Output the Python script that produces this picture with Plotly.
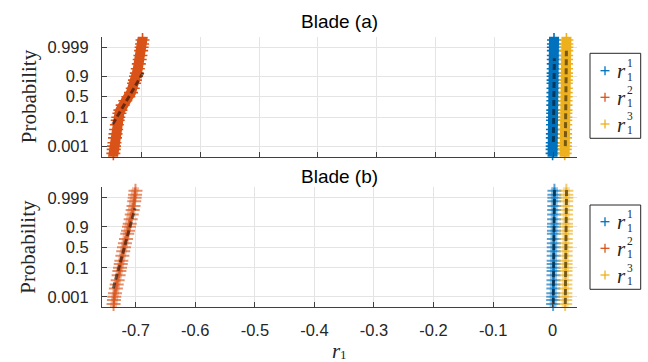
import plotly.graph_objects as go
from statistics import NormalDist

ND = NormalDist()
W, H = 648, 362

# ---------------- data ----------------
series_names = ["r1^1", "r1^2", "r1^3"]
colors = ["#0072BD", "#D95319", "#EDB120"]

# probability levels (plotting positions) at which the sorted samples were read
prob_levels = [0.00007, 0.0002, 0.0005, 0.001, 0.002, 0.005, 0.01, 0.02, 0.04, 0.07,
               0.1, 0.15, 0.2, 0.3, 0.4, 0.5, 0.6, 0.7, 0.8, 0.85,
               0.9, 0.93, 0.96, 0.98, 0.99, 0.995, 0.998, 0.999, 0.9995, 0.9998, 0.99993]

# Blade (a)
a_r1 = [-0.0013, -0.0012, -0.0011, -0.0010, -0.0009, -0.0008, -0.0007, -0.0006, -0.0005, -0.0004,
        -0.0003, -0.0002, -0.0001, 0.0000, 0.0001, 0.0002, 0.0003, 0.0004, 0.0004, 0.0005,
        0.0006, 0.0006, 0.0007, 0.0008, 0.0008, 0.0009, 0.0010, 0.0010, 0.0011, 0.0012, 0.0013]
a_r2 = [-0.7485, -0.7478, -0.7472, -0.7467, -0.7459, -0.7450, -0.7441, -0.7430, -0.7418, -0.7404,
        -0.7394, -0.7375, -0.7358, -0.7320, -0.7275, -0.7224, -0.7178, -0.7148, -0.7126, -0.7111,
        -0.7093, -0.7079, -0.7062, -0.7045, -0.7030, -0.7018, -0.7006, -0.6997, -0.6990, -0.6982, -0.6975]
a_r3 = [0.0192, 0.0194, 0.0196, 0.0197, 0.0199, 0.0200, 0.0201, 0.0202, 0.0203, 0.0204,
        0.0205, 0.0206, 0.0207, 0.0208, 0.0209, 0.0210, 0.0211, 0.0212, 0.0213, 0.0213,
        0.0214, 0.0215, 0.0216, 0.0217, 0.0218, 0.0219, 0.0220, 0.0221, 0.0222, 0.0223, 0.0224]

# Blade (b)
b_r1 = [0.0006, 0.0007, 0.0008, 0.0009, 0.0010, 0.0011, 0.0012, 0.0013, 0.0014, 0.0015,
        0.0015, 0.0016, 0.0016, 0.0017, 0.0017, 0.0018, 0.0019, 0.0019, 0.0020, 0.0021,
        0.0021, 0.0022, 0.0023, 0.0024, 0.0025, 0.0026, 0.0027, 0.0028, 0.0028, 0.0029, 0.0030]
b_r2 = [-0.7378, -0.7372, -0.7366, -0.7360, -0.7349, -0.7333, -0.7319, -0.7303, -0.7287, -0.7274,
        -0.7264, -0.7251, -0.7241, -0.7224, -0.7210, -0.7197, -0.7181, -0.7163, -0.7142, -0.7129,
        -0.7113, -0.7101, -0.7085, -0.7067, -0.7051, -0.7037, -0.7025, -0.7017, -0.7011, -0.7004, -0.6998]
b_r3 = [0.0208, 0.0209, 0.0210, 0.0211, 0.0212, 0.0213, 0.0213, 0.0214, 0.0215, 0.0215,
        0.0216, 0.0217, 0.0217, 0.0218, 0.0218, 0.0219, 0.0220, 0.0220, 0.0221, 0.0222,
        0.0222, 0.0223, 0.0224, 0.0224, 0.0225, 0.0226, 0.0227, 0.0228, 0.0228, 0.0229, 0.0230]

# fitted normal reference lines (mean, std, probability span of dashed line)
a_fit_mu = [0.0010, -0.7213, 0.0214]
a_fit_sigma = [0.0003, 0.01606, 0.0003]
a_fit_plo = [0.0023, 0.042, 0.001]
a_fit_phi = [0.992, 0.948, 0.998]
b_fit_mu = [0.0020, -0.7190, 0.0222]
b_fit_sigma = [0.0003, 0.0073, 0.0003]
b_fit_plo = [0.0002, 0.0052, 0.0002]
b_fit_phi = [0.9999, 0.9927, 0.9999]

x_tick_vals = [-0.7, -0.6, -0.5, -0.4, -0.3, -0.2, -0.1, 0.0]
x_tick_text = ["-0.7", "-0.6", "-0.5", "-0.4", "-0.3", "-0.2", "-0.1", "0"]
p_tick_vals = [0.001, 0.1, 0.5, 0.9, 0.999]
p_tick_text = ["0.001", "0.1", "0.5", "0.9", "0.999"]
titles = ["Blade (a)", "Blade (b)"]

# ---------------- helpers ----------------
def px(x):
    return x / W

def py(y):
    return 1 - y / H

def rgba(hexc, a):
    h = hexc.lstrip('#')
    return "rgba(%d,%d,%d,%.3f)" % (int(h[0:2], 16), int(h[2:4], 16), int(h[4:6], 16), a)

q_levels = [ND.inv_cdf(p) for p in prob_levels]

fig = go.Figure()

def add_panel(xa, ya, data, mus, sigmas, plos, phis, solid):
    for xs, c in zip(data, colors):
        if solid:
            fig.add_trace(go.Scatter(x=xs, y=q_levels, xaxis=xa, yaxis=ya, mode="lines",
                                     line=dict(color=c, width=10), showlegend=False, hoverinfo="skip"))
            fig.add_trace(go.Scatter(x=xs, y=q_levels, xaxis=xa, yaxis=ya, mode="markers",
                                     marker=dict(symbol="cross-thin", size=10,
                                                 line=dict(color=c, width=1.6)),
                                     cliponaxis=False, showlegend=False))
        else:
            fig.add_trace(go.Scatter(x=xs, y=q_levels, xaxis=xa, yaxis=ya, mode="lines",
                                     line=dict(color=rgba(c, 0.4), width=7), showlegend=False, hoverinfo="skip"))
            fig.add_trace(go.Scatter(x=xs, y=q_levels, xaxis=xa, yaxis=ya, mode="markers",
                                     marker=dict(symbol="cross-thin", size=10,
                                                 line=dict(color=rgba(c, 0.65), width=2)),
                                     cliponaxis=False, showlegend=False))
    for mu, s, lo, hi in zip(mus, sigmas, plos, phis):
        qs = [ND.inv_cdf(lo), ND.inv_cdf(hi)]
        fig.add_trace(go.Scatter(x=[mu + s * q for q in qs], y=qs, xaxis=xa, yaxis=ya, mode="lines",
                                 line=dict(color="rgba(0,0,0,0.5)", width=3, dash="6px,3px"),
                                 showlegend=False))

add_panel("x", "y", [a_r1, a_r2, a_r3], a_fit_mu, a_fit_sigma, a_fit_plo, a_fit_phi, True)
add_panel("x2", "y2", [b_r1, b_r2, b_r3], b_fit_mu, b_fit_sigma, b_fit_plo, b_fit_phi, False)

tick_font = dict(family="Liberation Sans, Arial, sans-serif", size=16.5, color="#262626")
axis_common = dict(showline=True, linecolor="#404040", linewidth=1, mirror=False,
                   ticks="inside", ticklen=5, tickcolor="#404040", tickwidth=1,
                   showgrid=True, gridcolor="#e4e4e4", gridwidth=1, zeroline=False,
                   tickfont=tick_font)

xdom = [px(102), px(577.3)]
q_ticks = [ND.inv_cdf(p) for p in p_tick_vals]

fig.update_layout(
    width=W, height=H, margin=dict(l=0, r=0, t=0, b=0),
    paper_bgcolor="white", plot_bgcolor="white", showlegend=False,
    xaxis=dict(domain=xdom, anchor="y", range=[-0.7671, 0.0408], tickvals=x_tick_vals,
               ticktext=x_tick_text, showticklabels=False, **axis_common),
    yaxis=dict(domain=[py(156.7), py(36.7)], anchor="x", range=[-3.75, 3.75],
               tickvals=q_ticks, ticktext=p_tick_text, ticklabelstandoff=9, **axis_common),
    xaxis2=dict(domain=xdom, anchor="y2", range=[-0.7566, 0.0413], tickvals=x_tick_vals,
                ticktext=x_tick_text, ticklabelstandoff=8, **axis_common),
    yaxis2=dict(domain=[py(307.3), py(187.3)], anchor="x2", range=[-3.75, 3.75],
                tickvals=q_ticks, ticktext=p_tick_text, ticklabelstandoff=9, **axis_common),
)

ann = []
shapes = []
serif = "Liberation Serif, Times New Roman, serif"
# titles
for t, yc in zip(titles, [21, 176.5]):
    ann.append(dict(text=t, x=px(339.5), y=py(yc), xref="paper", yref="paper",
                    xanchor="center", yanchor="middle", showarrow=False,
                    font=dict(family="Liberation Sans, Arial, sans-serif", size=19, color="#000000")))
# y labels
for yc in [96.7, 247.3]:
    ann.append(dict(text="Probability", x=px(28.5), y=py(yc), xref="paper", yref="paper",
                    xanchor="center", yanchor="middle", textangle=-90, showarrow=False,
                    font=dict(family=serif, size=21, color="#262626")))
# x label: italic r with subscript 1
ann.append(dict(text="<i>r</i>", x=px(336), y=py(350.5), xref="paper", yref="paper",
                xanchor="center", yanchor="middle", showarrow=False,
                font=dict(family=serif, size=21, color="#262626")))
ann.append(dict(text="1", x=px(343.5), y=py(354), xref="paper", yref="paper",
                xanchor="center", yanchor="middle", showarrow=False,
                font=dict(family=serif, size=13, color="#262626")))

# legends
for box_top, box_bot, rows in [(53.3, 138.3, [70.7, 97.3, 124.0]), (205.0, 289.3, [221.7, 248.3, 275.0])]:
    shapes.append(dict(type="rect", xref="paper", yref="paper", x0=px(590), x1=px(640.7),
                       y0=py(box_bot), y1=py(box_top), line=dict(color="#262626", width=1),
                       fillcolor="white", layer="above"))
    for i, (r, c) in enumerate(zip(rows, colors)):
        shapes.append(dict(type="line", xref="paper", yref="paper", x0=px(600.5), x1=px(609.5),
                           y0=py(r), y1=py(r), line=dict(color=c, width=1.3), layer="above"))
        shapes.append(dict(type="line", xref="paper", yref="paper", x0=px(605), x1=px(605),
                           y0=py(r - 4.5), y1=py(r + 4.5), line=dict(color=c, width=1.3), layer="above"))
        ann.append(dict(text="<i>r</i>", x=px(621.5), y=py(r + 0.5), xref="paper", yref="paper",
                        xanchor="center", yanchor="middle", showarrow=False,
                        font=dict(family=serif, size=21, color="#262626")))
        ann.append(dict(text=str(i + 1), x=px(630), y=py(r - 7.5), xref="paper", yref="paper",
                        xanchor="center", yanchor="middle", showarrow=False,
                        font=dict(family=serif, size=11.5, color="#262626")))
        ann.append(dict(text="1", x=px(630), y=py(r + 6), xref="paper", yref="paper",
                        xanchor="center", yanchor="middle", showarrow=False,
                        font=dict(family=serif, size=11.5, color="#262626")))

fig.update_layout(annotations=ann, shapes=shapes)
fig.write_html("out.html")
